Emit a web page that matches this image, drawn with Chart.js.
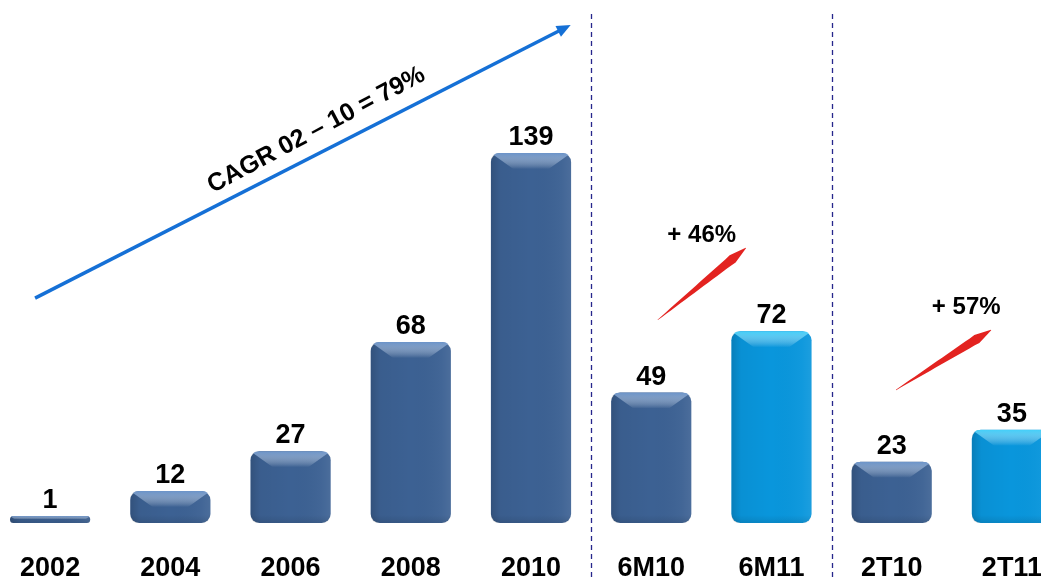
<!DOCTYPE html>
<html>
<head>
<meta charset="utf-8">
<script src="https://cdn.jsdelivr.net/npm/chart.js@4/dist/chart.umd.min.js"></script>
<style>
  html, body { margin: 0; padding: 0; background: #ffffff; overflow: hidden; }
  #wrap { position: absolute; left: -10px; top: 0; width: 1082px; height: 579px; }
</style>
</head>
<body>
<div id="wrap"><canvas id="c"></canvas></div>
<script>
const categories = ['2002', '2004', '2006', '2008', '2010', '6M10', '6M11', '2T10', '2T11'];
const values = [1, 12, 27, 68, 139, 49, 72, 23, 35];
const barKinds = ['dark', 'dark', 'dark', 'dark', 'dark', 'dark', 'light', 'dark', 'light'];
const cagrLabel = 'CAGR 02 \u2013 10 = 79%';
const growthLabels = ['+ 46%', '+ 57%'];

const FONT = '"Liberation Sans", Arial, sans-serif';
const baseColors = { dark: '#3c6193', light: '#0996dc' };
const topColors = { dark: '#6a93c9', light: '#43cff9' };

function roundRectPath(ctx, x, y, w, h, r) {
  r = Math.min(r, w / 2, h / 2);
  ctx.beginPath();
  ctx.moveTo(x + r, y);
  ctx.lineTo(x + w - r, y);
  ctx.quadraticCurveTo(x + w, y, x + w, y + r);
  ctx.lineTo(x + w, y + h - r);
  ctx.quadraticCurveTo(x + w, y + h, x + w - r, y + h);
  ctx.lineTo(x + r, y + h);
  ctx.quadraticCurveTo(x, y + h, x, y + h - r);
  ctx.lineTo(x, y + r);
  ctx.quadraticCurveTo(x, y, x + r, y);
  ctx.closePath();
}

const bevelPlugin = {
  id: 'bevel',
  afterDatasetsDraw(chart) {
    const ctx = chart.ctx;
    const meta = chart.getDatasetMeta(0);
    meta.data.forEach((bar, i) => {
      const p = bar.getProps(['x', 'y', 'base', 'width'], true);
      const left = p.x - p.width / 2, right = p.x + p.width / 2;
      const top = Math.min(p.y, p.base), bottom = Math.max(p.y, p.base);
      const w = right - left, h = bottom - top;
      const b = Math.min(16, h / 2);
      ctx.save();
      roundRectPath(ctx, left, top, w, h, 9);
      ctx.clip();
      // soft side shading
      const gs = ctx.createLinearGradient(left, 0, right, 0);
      gs.addColorStop(0, 'rgba(0,0,0,0.16)');
      gs.addColorStop(0.12, 'rgba(0,0,0,0.04)');
      gs.addColorStop(0.5, 'rgba(0,0,0,0)');
      gs.addColorStop(0.88, 'rgba(255,255,255,0.03)');
      gs.addColorStop(1, 'rgba(255,255,255,0.08)');
      ctx.fillStyle = gs;
      ctx.fillRect(left, top, w, h);
      // top facet
      const g = ctx.createLinearGradient(0, top, 0, top + b);
      g.addColorStop(0, topColors[barKinds[i]]);
      g.addColorStop(1, 'rgba(255,255,255,0)');
      ctx.fillStyle = g;
      ctx.beginPath();
      ctx.moveTo(left, top); ctx.lineTo(right, top);
      ctx.lineTo(right - b * 1.4, top + b); ctx.lineTo(left + b * 1.4, top + b);
      ctx.closePath(); ctx.fill();
      // bottom soft shade
      const gb = ctx.createLinearGradient(0, bottom - 8, 0, bottom);
      gb.addColorStop(0, 'rgba(0,0,0,0)');
      gb.addColorStop(1, 'rgba(0,0,0,0.10)');
      ctx.fillStyle = gb;
      ctx.fillRect(left, bottom - 8, w, 8);
      ctx.restore();

      // value label
      ctx.save();
      ctx.font = 'bold 27px ' + FONT;
      ctx.fillStyle = '#000000';
      ctx.textAlign = 'center';
      ctx.textBaseline = 'alphabetic';
      ctx.fillText(String(values[i]), p.x, top - 8);
      ctx.restore();
    });
  }
};

function brushArrow(ctx, x1, y1, x2, y2, maxW) {
  const dx = x2 - x1, dy = y2 - y1;
  const len = Math.hypot(dx, dy);
  const ux = dx / len, uy = dy / len;
  const nx = -uy, ny = ux;
  const steps = 20;
  const up = [], dn = [];
  for (let s = 0; s <= steps; s++) {
    const t = s / steps;
    let w;
    if (t < 0.85) w = 0.5 + (maxW - 0.5) * (t / 0.85);
    else w = maxW * (1 - (t - 0.85) / 0.15) + 0.5;
    const cx = x1 + dx * t, cy = y1 + dy * t;
    up.push([cx + nx * w / 2, cy + ny * w / 2]);
    dn.push([cx - nx * w / 2, cy - ny * w / 2]);
  }
  ctx.beginPath();
  ctx.moveTo(up[0][0], up[0][1]);
  up.forEach(q => ctx.lineTo(q[0], q[1]));
  for (let k = dn.length - 1; k >= 0; k--) ctx.lineTo(dn[k][0], dn[k][1]);
  ctx.closePath();
  ctx.fill();
}

const annotPlugin = {
  id: 'annot',
  afterDraw(chart) {
    const ctx = chart.ctx;
    const xs = chart.scales.x, ys = chart.scales.y;
    const X = v => xs.getPixelForValue(v);
    const Y = v => ys.getPixelForValue(v);
    ctx.save();
    // dashed separators
    ctx.strokeStyle = '#26268c';
    ctx.lineWidth = 1.3;
    ctx.setLineDash([5, 4]);
    [4.5, 6.5].forEach(i => {
      const x = Math.round(X(i)) + 0.5;
      ctx.beginPath();
      ctx.moveTo(x, Y(191.2));
      ctx.lineTo(x, chart.height);
      ctx.stroke();
    });
    ctx.setLineDash([]);

    // CAGR arrow
    const ax1 = X(-0.125), ay1 = Y(84.5), ax2 = X(4.33), ay2 = Y(187.1);
    const ang = Math.atan2(ay2 - ay1, ax2 - ax1);
    ctx.strokeStyle = '#1570d6';
    ctx.fillStyle = '#1570d6';
    ctx.lineWidth = 3.5;
    ctx.beginPath();
    ctx.moveTo(ax1, ay1);
    ctx.lineTo(ax2 - Math.cos(ang) * 10, ay2 - Math.sin(ang) * 10);
    ctx.stroke();
    ctx.beginPath();
    ctx.moveTo(ax2, ay2);
    ctx.lineTo(ax2 - Math.cos(ang) * 14 + Math.sin(ang) * 6, ay2 - Math.sin(ang) * 14 - Math.cos(ang) * 6);
    ctx.lineTo(ax2 - Math.cos(ang) * 14 - Math.sin(ang) * 6, ay2 - Math.sin(ang) * 14 + Math.cos(ang) * 6);
    ctx.closePath();
    ctx.fill();

    // CAGR text
    ctx.save();
    ctx.translate(X(2.215), Y(147.6));
    ctx.rotate(-28 * Math.PI / 180);
    ctx.font = 'bold 25px ' + FONT;
    ctx.fillStyle = '#000000';
    ctx.textAlign = 'center';
    ctx.textBaseline = 'middle';
    ctx.fillText(cagrLabel, 0, 0);
    ctx.restore();

    // red growth arrows
    ctx.fillStyle = '#e32320';
    brushArrow(ctx, X(5.054), Y(76.3), X(5.787), Y(103.3), 9);
    brushArrow(ctx, X(7.036), Y(50), X(7.827), Y(72.5), 9);

    ctx.font = 'bold 24px ' + FONT;
    ctx.fillStyle = '#000000';
    ctx.textAlign = 'center';
    ctx.textBaseline = 'middle';
    ctx.fillText(growthLabels[0], X(5.42), Y(108.2));
    ctx.fillText(growthLabels[1], X(7.62), Y(81.1));
    ctx.restore();
  }
};

new Chart(document.getElementById('c'), {
  type: 'bar',
  data: {
    labels: categories,
    datasets: [{
      data: values,
      backgroundColor: barKinds.map(k => baseColors[k]),
      borderWidth: 0,
      borderRadius: 9,
      borderSkipped: false,
      minBarLength: 7,
      barPercentage: 0.667,
      categoryPercentage: 1.0
    }]
  },
  options: {
    responsive: true,
    maintainAspectRatio: false,
    animation: false,
    layout: { padding: 0 },
    plugins: { legend: { display: false }, tooltip: { enabled: false } },
    scales: {
      y: { display: false, min: 0, max: 196.5 },
      x: {
        grid: { display: false, drawTicks: false },
        border: { display: false },
        ticks: {
          color: '#000000',
          font: { family: FONT, size: 27, weight: 'bold' },
          padding: 29,
          maxRotation: 0,
          autoSkip: false
        },
        afterFit(scale) { scale.height = 56; }
      }
    }
  },
  plugins: [bevelPlugin, annotPlugin]
});
</script>
</body>
</html>
